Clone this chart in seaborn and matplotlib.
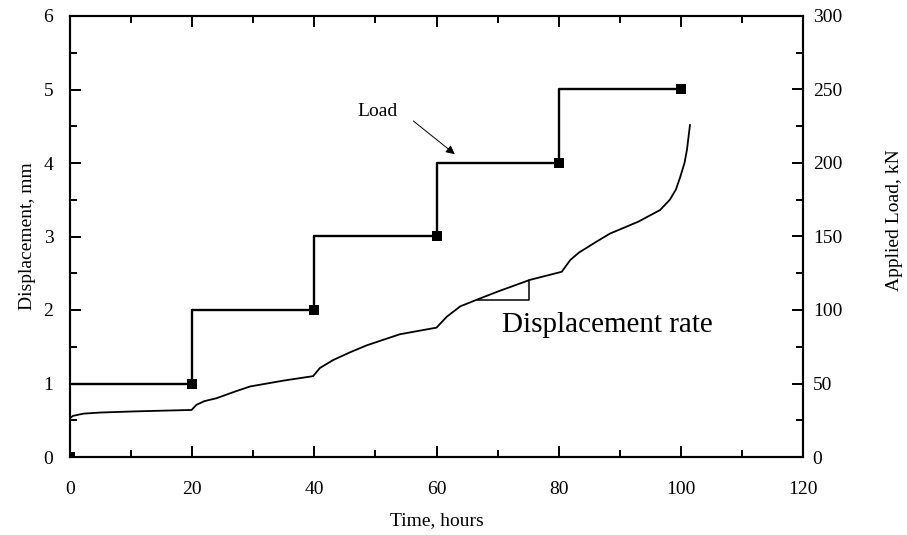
import matplotlib
matplotlib.use("Agg")
import matplotlib.pyplot as plt
import seaborn as sns
import pandas as pd
from matplotlib.ticker import MultipleLocator

# ---- data ----
time_disp = [0, 0.5, 2.2, 5, 10.4, 15, 19.9, 20.7, 22, 24, 27, 29.5, 35, 39.8, 40.9,
             43.1, 46, 48.6, 54, 60, 61.7, 63.9, 66.6, 70, 75.3, 80.5, 81.9, 83.3,
             86, 88.4, 93, 96.6, 98.2, 99.2, 99.9, 100.6, 101, 101.5]
displacement = [0.53, 0.56, 0.59, 0.605, 0.62, 0.63, 0.64, 0.71, 0.76, 0.80, 0.89,
                0.96, 1.04, 1.10, 1.21, 1.32, 1.43, 1.52, 1.67, 1.76, 1.91, 2.05,
                2.14, 2.25, 2.41, 2.52, 2.68, 2.78, 2.92, 3.04, 3.20, 3.36, 3.50,
                3.64, 3.81, 4.00, 4.18, 4.52]

time_load = [0, 20, 20, 40, 40, 60, 60, 80, 80, 100]
load = [50, 50, 100, 100, 150, 150, 200, 200, 250, 250]

marker_time = [0, 20, 40, 60, 80, 100]
marker_load = [0, 50, 100, 150, 200, 250]

rate_time = [66.6, 75.2, 75.2]
rate_disp = [2.14, 2.14, 2.41]

x_ticks = [0, 20, 40, 60, 80, 100, 120]
y_ticks = [0, 1, 2, 3, 4, 5, 6]
y2_ticks = [0, 50, 100, 150, 200, 250, 300]

df_disp = pd.DataFrame({"time": time_disp, "disp": displacement})
df_load = pd.DataFrame({"time": time_load, "load": load})
df_mark = pd.DataFrame({"time": marker_time, "load": marker_load})
df_rate = pd.DataFrame({"time": rate_time, "disp": rate_disp})

sns.set_theme(style="white")
plt.rcParams["font.family"] = ["Liberation Serif", "DejaVu Serif"]

fig = plt.figure(figsize=(9.07, 5.35), dpi=100)
ax = fig.add_axes([70 / 907, (535 - 457) / 535, 733 / 907, 441 / 535])
ax2 = ax.twinx()

sns.lineplot(data=df_disp, x="time", y="disp", ax=ax, color="black", lw=1.3,
             sort=False, estimator=None)
sns.lineplot(data=df_rate, x="time", y="disp", ax=ax, color="black", lw=1.1,
             sort=False, estimator=None)
sns.lineplot(data=df_load, x="time", y="load", ax=ax2, color="black", lw=1.7,
             sort=False, estimator=None)
sns.scatterplot(data=df_mark, x="time", y="load", ax=ax2, color="black",
                marker="s", s=45, edgecolor="black", linewidth=0, zorder=5)

ax.set_xlim(0, 120)
ax.set_ylim(0, 6)
ax2.set_ylim(0, 300)
ax.set_xticks(x_ticks)
ax.set_yticks(y_ticks)
ax2.set_yticks(y2_ticks)
ax.xaxis.set_minor_locator(MultipleLocator(10))
ax.yaxis.set_minor_locator(MultipleLocator(0.5))
ax2.yaxis.set_minor_locator(MultipleLocator(25))

for a in (ax, ax2):
    for s in a.spines.values():
        s.set_linewidth(1.5)
        s.set_color("black")

ax.tick_params(axis="both", which="both", direction="in", colors="black",
               width=1.4, labelsize=14)
ax.tick_params(axis="x", which="both", top=True, bottom=True, pad=17)
ax.tick_params(axis="y", which="both", left=True, right=False, pad=12)
ax.tick_params(which="major", length=8)
ax.tick_params(which="minor", length=5)
ax2.tick_params(axis="y", which="both", direction="in", right=True, left=False,
                width=1.4, labelsize=14, pad=7, colors="black")
ax2.tick_params(which="major", length=8)
ax2.tick_params(which="minor", length=5)

ax.set_xlabel("Time, hours", fontsize=14, color="black")
ax.set_ylabel("Displacement, mm", fontsize=14, color="black")
ax2.set_ylabel("Applied Load, kN", fontsize=14, color="black")
ax.xaxis.set_label_coords(0.5, (457 - 512) / 441)
ax.yaxis.set_label_coords((36 - 70) / 733, 0.5)
ax2.yaxis.set_label_coords((886 - 70) / 733, (457 - 220) / 441)

ax2.text(50.4, 234.7, "Load", fontsize=14, ha="center", va="center", color="black")
ax2.annotate("", xy=(63.0, 206.0), xytext=(56.2, 228.6),
             arrowprops=dict(arrowstyle="-|>", lw=0.7, color="black",
                             mutation_scale=13, shrinkA=0, shrinkB=0))

ax.text(70.7, 1.70, "Displacement rate", fontsize=21, ha="left", va="baseline",
        color="black")

fig.savefig("out.png", dpi=100)
